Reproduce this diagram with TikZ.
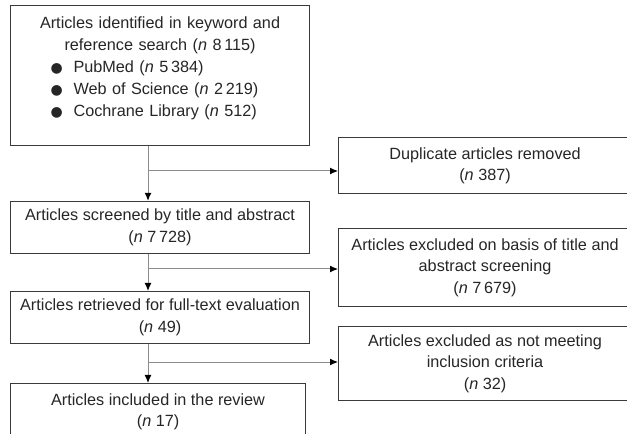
\documentclass[tikz,border=0pt]{standalone}
\usepackage{fontspec}
\setmainfont{Liberation Sans}
\newfontfamily\symfont{DejaVu Sans}
\usetikzlibrary{arrows.meta,positioning}
\usepackage{xcolor}
\definecolor{cbox}{HTML}{3A3A3A}
\definecolor{ctext}{HTML}{262626}
\definecolor{cline}{HTML}{8C8C8C}
\newcommand{\nn}[1]{(\textit{n}~#1)}
\newcommand{\bitem}[1]{\makebox[299bp][l]{\hspace{40bp}\makebox[23bp][l]{{\symfont\fontsize{14}{14}\selectfont ●}}#1}}

\begin{document}
\begin{tikzpicture}[x=1bp, y=-1bp, every node/.style={
      draw=cbox, line width=1.1bp, inner sep=0pt,
      font=\fontsize{16.3}{21.5}\selectfont, text=ctext, align=center},
    flow/.style={draw=cline, line width=1bp, -{Latex[length=8bp,width=7bp,color=black]}}]
    \useasboundingbox (0,0) rectangle (627,434);
    % left column
    \node[anchor=north west, text width=299bp, font=\fontsize{16.3}{22}\selectfont] (search) at (10,5)
      {\rule{0pt}{23bp}Articles identified in keyword and\\ reference search \nn{8\,115}\\
       \bitem{PubMed \nn{5\,384}}\\
       \bitem{Web of Science \nn{2\,219}}\\
       \bitem{Cochrane Library \nn{512}}\rule[-29bp]{0pt}{29bp}};
    \node[below=55bp of search, minimum width=299bp, minimum height=52bp] (screen)
      {Articles screened by title and abstract\\ \nn{7\,728}};
    \node[below=37bp of screen, minimum width=299bp, minimum height=52bp] (fulltext)
      {Articles retrieved for full-text evaluation\\ \nn{49}};
    \node[below=39bp of fulltext.south west, anchor=north west, minimum width=295bp, minimum height=56bp] (included)
      {Articles included in the review\\ \nn{17}};
    % right column
    \node[anchor=north west, minimum width=293bp, minimum height=56bp] (dup) at (338,137)
      {Duplicate articles removed\\ \nn{387}};
    \node[anchor=north west, minimum width=293bp, minimum height=78bp] (excltitle) at (338,228)
      {Articles excluded on basis of title and\\ abstract screening\\ \nn{7\,679}};
    \node[anchor=north west, minimum width=293bp, minimum height=74bp] (exclcrit) at (338,326)
      {Articles excluded as not meeting\\ inclusion criteria\\ \nn{32}};
    % connectors
    \coordinate (trunk) at (148,0);
    \coordinate (b1) at (148,171);
    \coordinate (b2) at (148,269);
    \coordinate (b3) at (148,362);
    \draw[flow] (search.south -| trunk) -- (screen.north -| trunk);
    \draw[flow] (screen.south -| trunk) -- (fulltext.north -| trunk);
    \draw[flow] (fulltext.south -| trunk) -- (included.north -| trunk);
    \draw[flow] (b1) -- (b1 -| dup.west);
    \draw[flow] (b2) -- (b2 -| excltitle.west);
    \draw[flow] (b3) -- (b3 -| exclcrit.west);
\end{tikzpicture}
\end{document}
